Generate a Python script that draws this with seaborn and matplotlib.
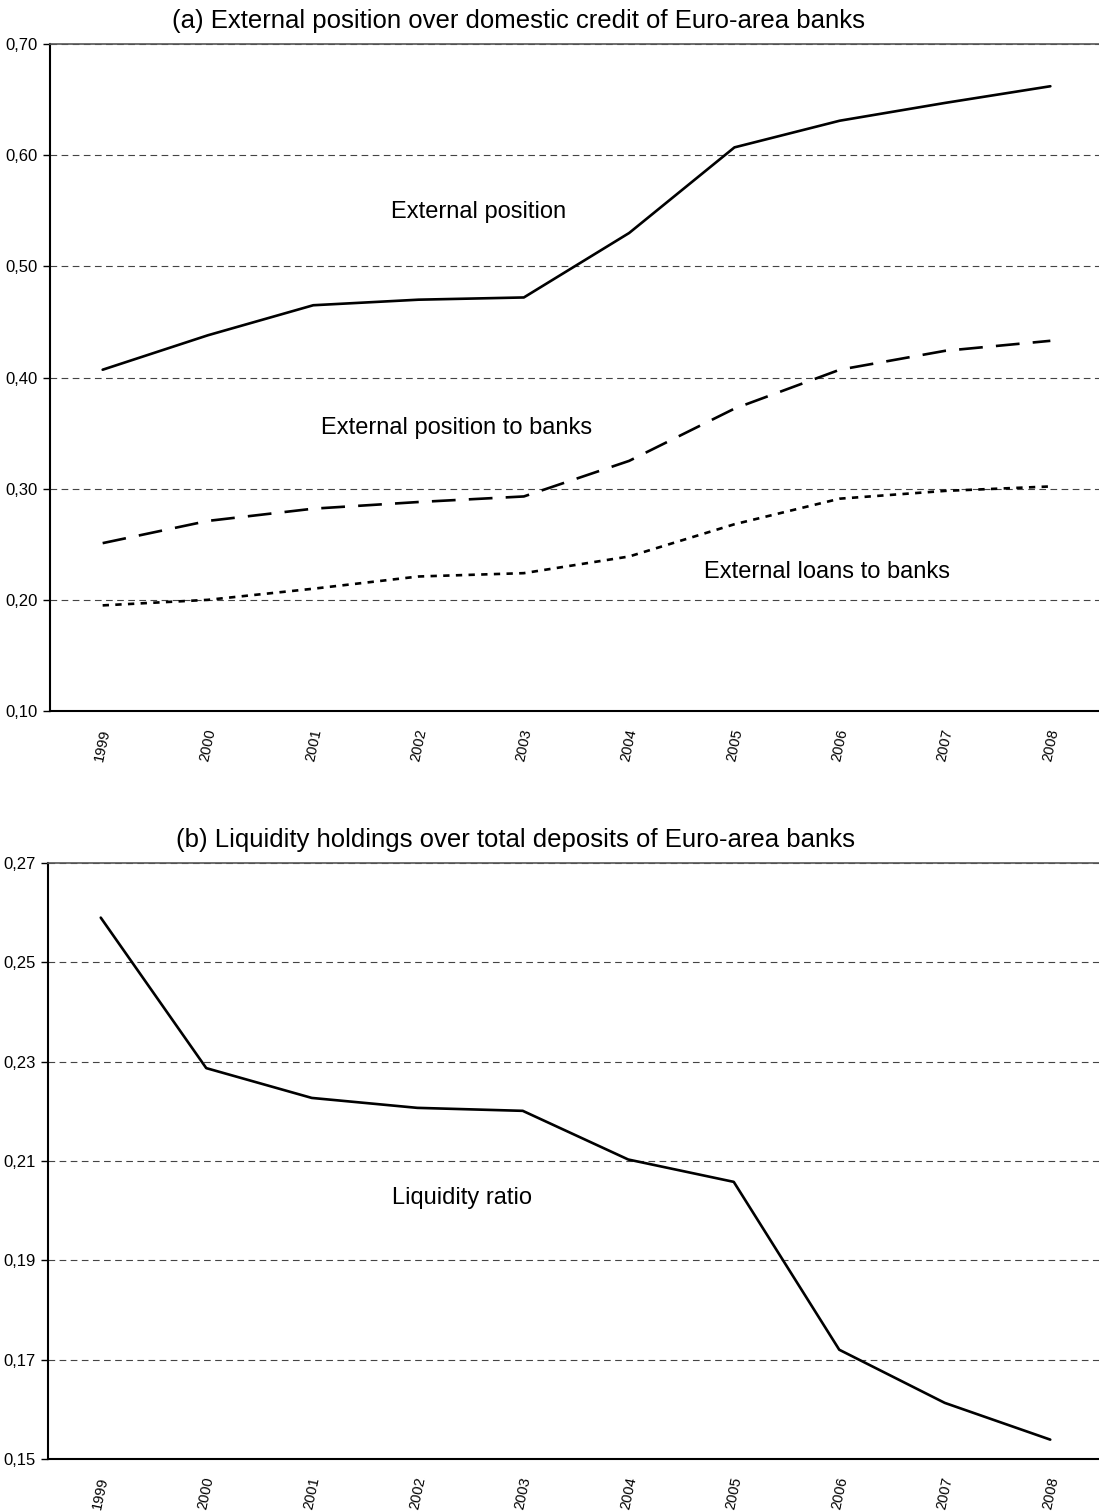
import numpy as np
import pandas as pd
import matplotlib
matplotlib.use("Agg")
import matplotlib.pyplot as plt
from matplotlib.ticker import FuncFormatter
import seaborn as sns

# ---- data ----
years = ['1999', '2000', '2001', '2002', '2003', '2004', '2005', '2006', '2007', '2008']

external_position = [0.407, 0.438, 0.465, 0.470, 0.472, 0.530, 0.607, 0.631, 0.647, 0.662]
position_to_banks = [0.251, 0.271, 0.282, 0.288, 0.293, 0.325, 0.372, 0.407, 0.424, 0.433]
loans_to_banks = [0.195, 0.200, 0.210, 0.221, 0.224, 0.239, 0.268, 0.291, 0.298, 0.302]

liquidity_ratio = [0.259, 0.2287, 0.2227, 0.2207, 0.2201, 0.2103, 0.2058, 0.1720, 0.1613, 0.1539]

top_yticks = [0.10, 0.20, 0.30, 0.40, 0.50, 0.60, 0.70]
bottom_yticks = [0.15, 0.17, 0.19, 0.21, 0.23, 0.25, 0.27]

series_names = ['External position', 'External position to banks', 'External loans to banks']

sns.set_style("white")
plt.rcParams['font.family'] = ['Liberation Sans', 'DejaVu Sans']
for key in ['text.color', 'axes.labelcolor', 'xtick.color', 'ytick.color']:
    plt.rcParams[key] = 'black'

top_df = pd.DataFrame({
    'year': years * 3,
    'value': external_position + position_to_banks + loans_to_banks,
    'series': [s for s in series_names for _ in years],
})
bottom_df = pd.DataFrame({'year': years, 'value': liquidity_ratio})

W, H = 1099, 1511
fig = plt.figure(figsize=(W / 100, H / 100), dpi=100)
ax_top = fig.add_axes([50 / W, 1 - 711 / H, (1103 - 50) / W, (711 - 44) / H])
ax_bot = fig.add_axes([48 / W, 1 - 1459 / H, (1103 - 48) / W, (1459 - 863) / H])

comma_fmt = FuncFormatter(lambda v, _: f"{v:.2f}".replace('.', ','))


def style_axes(ax, yticks):
    ax.set_xlim(-0.5, len(years) - 0.5)
    ax.set_ylim(yticks[0], yticks[-1])
    ax.set_yticks(yticks)
    ax.yaxis.set_major_formatter(comma_fmt)
    ax.set_xticks(range(len(years)))
    ax.set_xticklabels(years, rotation=78, ha='center', va='top')
    ax.set_xticks(np.arange(-0.5, len(years), 1), minor=True)
    ax.set_xlabel('')
    ax.set_ylabel('')
    ax.grid(axis='y', color='#444444', linestyle=(0, (6, 4)), linewidth=0.8)
    ax.grid(axis='x', visible=False)
    ax.set_axisbelow(True)
    ax.tick_params(axis='x', which='major', length=0, pad=12, labelsize=10.5)
    ax.tick_params(axis='x', which='minor', length=5, width=1, direction='out', color='black')
    ax.tick_params(axis='y', length=5, width=1, direction='out', color='black',
                   pad=4, labelsize=12, left=True)
    ax.spines['right'].set_visible(False)
    ax.spines['top'].set_color('#555555')
    ax.spines['top'].set_linewidth(1.2)
    for side in ['left', 'bottom']:
        ax.spines[side].set_color('black')
        ax.spines[side].set_linewidth(1.5)


# (a) external position
sns.lineplot(data=top_df, x='year', y='value', style='series', style_order=series_names,
             dashes={'External position': '', 'External position to banks': (9, 5),
                     'External loans to banks': (2.4, 2.4)},
             color='black', linewidth=1.9, legend=False, ax=ax_top, sort=False)
style_axes(ax_top, top_yticks)
ax_top.text(3.57, 0.549, 'External position', fontsize=17, ha='center', va='center')
ax_top.text(3.36, 0.3545, 'External position to banks', fontsize=17, ha='center', va='center')
ax_top.text(6.88, 0.2252, 'External loans to banks', fontsize=17, ha='center', va='center')

# (b) liquidity ratio
sns.lineplot(data=bottom_df, x='year', y='value', color='black', linewidth=1.9,
             ax=ax_bot, sort=False)
style_axes(ax_bot, bottom_yticks)
ax_bot.text(3.42, 0.2025, 'Liquidity ratio', fontsize=17, ha='center', va='center')

fig.text(518 / W, 1 - 21 / H, '(a) External position over domestic credit of Euro-area banks',
         fontsize=18.5, ha='center', va='center')
fig.text(516 / W, 1 - 840 / H, '(b) Liquidity holdings over total deposits of Euro-area banks',
         fontsize=18.5, ha='center', va='center')

fig.savefig('out.png', dpi=100, facecolor='white')
